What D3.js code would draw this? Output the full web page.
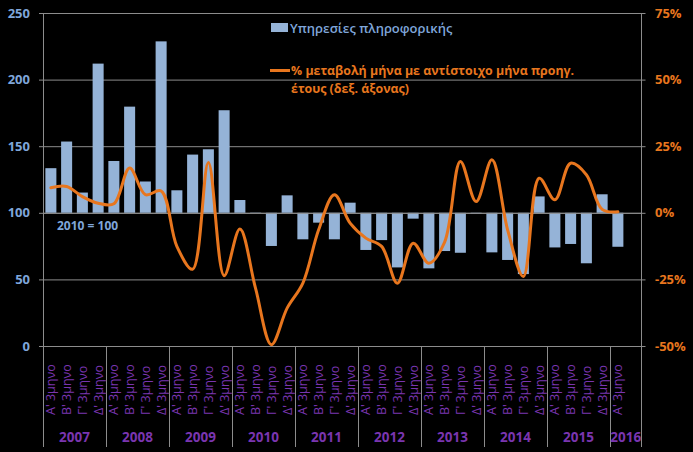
<!DOCTYPE html>
<html><head><meta charset="utf-8">
<script src="https://cdn.jsdelivr.net/npm/d3@7"></script>
<style>
html,body{margin:0;padding:0;background:#000;}
svg{display:block;font-family:"Open Sans","Noto Sans",sans-serif;}
</style></head>
<body><svg id="c" width="693" height="452"></svg>
<script>
const years = ["2007","2008","2009","2010","2011","2012","2013","2014","2015","2016"];
const quarterNames = ["Α' 3μηνο","Β' 3μηνο","Γ' 3μηνο","Δ' 3μηνο"];
// 37 quarters with data, plus one empty slot at the end of 2016
const barValues = [133.5,153.5,115.2,212,138.9,179.7,123.5,228.7,116.9,143.7,147.7,177,
  109.6,100.2,75.1,113.1,80.1,92.6,80.1,107.6,72.1,79.5,59,95.6,58.3,71.3,70,99.5,
  70.3,64.6,54,112.3,74,76.6,62.1,113.9,74.5];
const pctValues = [9.4,9.9,6.1,3.6,3.4,16.8,6.8,8.2,-12.6,-21.2,18.9,-23.6,
  -6.1,-28.5,-49.5,-35.8,-26.4,-6.4,6.8,-3.9,-9.5,-12.6,-26.4,-11.4,-18.9,-11,19.3,4.2,
  19.9,-6.4,-23.9,13,4.9,18.6,14.3,1.3,0.4];
const leftTicks = [0,50,100,150,200,250];
const rightTicks = [-50,-25,0,25,50,75];
const barName = "Υπηρεσίες πληροφορικής";
const lineName1 = "% μεταβολή μήνα με αντίστοιχο μήνα προηγ.";
const lineName2 = "έτους (δεξ. άξονας)";
const baseNote = "2010 = 100";

const nSlots = 38;
const slots = d3.range(nSlots);
const svg = d3.select("#c");
const L = 43, R = 641.5, T = 13, B = 346;
const x = d3.scaleBand().domain(slots).range([L, R]).padding(0);
const yL = d3.scaleLinear().domain([0,250]).range([B,T]);
const yR = d3.scaleLinear().domain([-50,75]).range([B,T]);

const grid = "#8c8c8c";
const barCol = "#95B3D7";
const lineCol = "#E8761E";
const blueTxt = "#7FA6DA";
const purple = "#7a35b0";

// gridlines
svg.append("g").selectAll("line").data(leftTicks).join("line")
  .attr("x1", L-4).attr("x2", R+4)
  .attr("y1", d=>yL(d)+0.5).attr("y2", d=>yL(d)+0.5)
  .attr("stroke", grid).attr("stroke-width",1);
// vertical axis lines
svg.append("line").attr("x1",L+0.5).attr("x2",L+0.5).attr("y1",T).attr("y2",B).attr("stroke",grid);
svg.append("line").attr("x1",R).attr("x2",R).attr("y1",T).attr("y2",447).attr("stroke",grid);

// bars
const bw = x.bandwidth()*0.7;
svg.append("g").selectAll("rect").data(barValues).join("rect")
  .attr("x", (d,i)=>x(i)+x.bandwidth()/2-bw/2)
  .attr("width", bw)
  .attr("y", d=>Math.min(yL(d), yL(100)))
  .attr("height", d=>Math.abs(yL(d)-yL(100)))
  .attr("fill", barCol);

// redraw baseline 100 over bars
svg.append("line").attr("x1",L).attr("x2",R).attr("y1",yL(100)+0.5).attr("y2",yL(100)+0.5)
  .attr("stroke",grid);

// line
const line = d3.line()
  .x((d,i)=>x(i)+x.bandwidth()/2)
  .y(d=>yR(d))
  .curve(d3.curveCatmullRom.alpha(0.5));
svg.append("path").datum(pctValues).attr("d", line)
  .attr("fill","none").attr("stroke",lineCol).attr("stroke-width",3)
  .attr("stroke-linejoin","round").attr("stroke-linecap","round");

// left tick labels
svg.append("g").selectAll("text").data(leftTicks).join("text")
  .attr("x", 30).attr("y", d=>yL(d)).attr("dy","0.35em")
  .attr("text-anchor","end").attr("fill",blueTxt)
  .attr("font-size",13).attr("font-weight","bold").text(d=>d);
// right tick labels
svg.append("g").selectAll("text").data(rightTicks).join("text")
  .attr("x", 655).attr("y", d=>yR(d)).attr("dy","0.35em")
  .attr("text-anchor","start").attr("fill",lineCol)
  .attr("font-size",13).attr("font-weight","bold").text(d=>d+"%");

// x axis separators (year boundaries)
const yearStarts = years.map((y,k)=>k*4);
svg.append("g").selectAll("line").data(yearStarts).join("line")
  .attr("x1", d=>x(d)+0.5).attr("x2", d=>x(d)+0.5)
  .attr("y1", B).attr("y2", 447).attr("stroke",grid);

// quarter labels
svg.append("g").selectAll("text").data(barValues).join("text")
  .attr("transform",(d,i)=>`translate(${x(i)+x.bandwidth()/2+4.5},415) rotate(-90)`)
  .attr("fill",purple).attr("font-size",12.5)
  .text((d,i)=>quarterNames[i%4]);
// year labels
svg.append("g").selectAll("text").data(years).join("text")
  .attr("x",(d,k)=>{const s=k*4; const e=Math.min(s+4,nSlots); return (x(s)+x(e-1)+x.bandwidth())/2;})
  .attr("y",442).attr("text-anchor","middle")
  .attr("fill",purple).attr("font-size",13.5).attr("font-weight","bold").text(d=>d);

// note
svg.append("text").attr("x",57).attr("y",230).attr("fill",blueTxt)
  .attr("font-size",12).attr("font-weight","bold").text(baseNote);

// legend
svg.append("rect").attr("x",271).attr("y",23).attr("width",17).attr("height",9).attr("fill",barCol);
svg.append("text").attr("x",290).attr("y",32.5).attr("fill",blueTxt).attr("font-size",13)
  .attr("font-weight","600").text(barName);
svg.append("line").attr("x1",270).attr("x2",290).attr("y1",70.5).attr("y2",70.5)
  .attr("stroke",lineCol).attr("stroke-width",3);
svg.append("text").attr("x",291).attr("y",75).attr("fill",lineCol).attr("font-size",12.4)
  .attr("font-weight","bold").text(lineName1);
svg.append("text").attr("x",291).attr("y",93).attr("fill",lineCol).attr("font-size",12.4)
  .attr("font-weight","bold").text(lineName2);
</script></body></html>
